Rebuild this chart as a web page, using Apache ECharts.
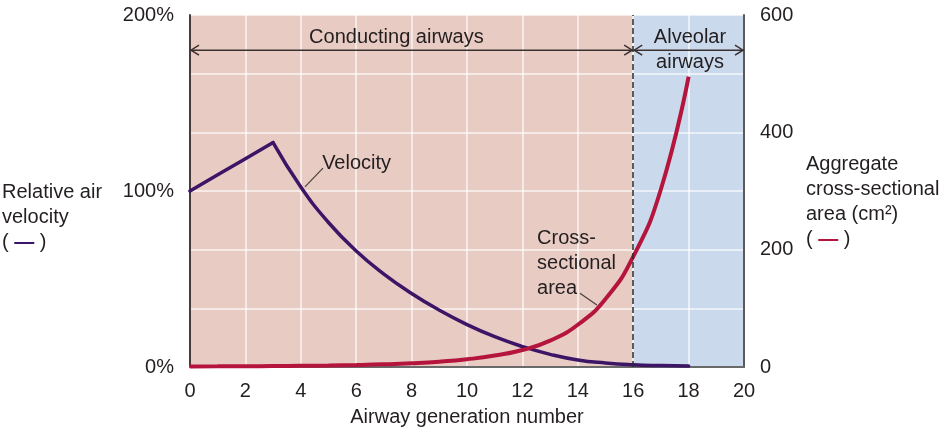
<!DOCTYPE html>
<html>
<head>
<meta charset="utf-8">
<script src="https://cdn.jsdelivr.net/npm/echarts@6/dist/echarts.min.js"></script>
<style>
html,body{margin:0;padding:0;background:#fff;}
#main{width:944px;height:432px;}
</style>
</head>
<body>
<div id="main"></div>
<script>
// ---- data ----
const generations = [0,1,2,3,4,5,6,7,8,9,10,11,12,13,14,15,16,17,18];
const velocityPct = [100,109.2,118.3,127.5,102.3,82.1,65.9,52.8,41.8,32.3,24.1,17.2,11.6,7.2,4.0,2.3,1.3,0.8,0.5];
const areaCm2 = [1.0,1.1,1.3,1.6,2.0,2.5,3.3,4.5,6.3,9.0,13.2,19.5,29,45,72,116,188,303,495];
const peakGeneration = 3;
const conductingRange = [0,16];
const alveolarRange = [16,20];
const leftTicks = [0,100,200];
const rightLabelTicks = [0,200,400,600];

const FONT = '"Liberation Sans", Arial, sans-serif';
const TXT = '#231f20';
const PURPLE = '#3c1566';
const RED = '#b5143d';

const riseData = [], decayData = [], areaData = [];
generations.forEach((g,i)=>{
  if (g <= peakGeneration) riseData.push([g, velocityPct[i]]);
  if (g >= peakGeneration) decayData.push([g, velocityPct[i]]);
  areaData.push([g, areaCm2[i]]);
});

const chart = echarts.init(document.getElementById('main'));
const option = {
  animation:false,
  backgroundColor:'#fff',
  grid:{left:190,right:200,top:15,bottom:59,containLabel:false},
  xAxis:{
    type:'value',min:0,max:20,interval:2,z:2,
    name:'Airway generation number',nameLocation:'middle',nameGap:40,
    nameTextStyle:{fontSize:20,fontFamily:FONT,color:TXT},
    axisLine:{show:true,lineStyle:{color:'#6a6a6a',width:2}},
    axisTick:{show:false},
    axisLabel:{fontSize:20,fontFamily:FONT,color:TXT,margin:14},
    splitLine:{show:true,lineStyle:{color:'rgba(255,255,255,0.6)',width:2}}
  },
  yAxis:[
    {type:'value',min:0,max:200,interval:100,position:'left',z:2,
     axisLine:{show:true,lineStyle:{color:'#4a3a3a',width:2}},
     axisTick:{show:false},
     axisLabel:{fontSize:20,fontFamily:FONT,color:TXT,margin:16,padding:[4,0,0,0],
       formatter:v=>leftTicks.includes(v)?v+'%':''},
     splitLine:{show:false}},
    {type:'value',min:0,max:600,interval:100,position:'right',z:2,
     axisLine:{show:true,lineStyle:{color:'#5a5a5a',width:2}},
     axisTick:{show:false},
     axisLabel:{fontSize:20,fontFamily:FONT,color:TXT,margin:16,padding:[4,0,0,0],
       formatter:v=>rightLabelTicks.includes(v)?String(v):''},
     splitLine:{show:true,lineStyle:{color:'rgba(255,255,255,0.6)',width:2}}}
  ],
  series:[
    {type:'line',yAxisIndex:1,data:[],z:1,silent:true,
     markArea:{silent:true,z:1,data:[
       [{xAxis:conductingRange[0],itemStyle:{color:'#e8cbc3'}},{xAxis:conductingRange[1]}],
       [{xAxis:alveolarRange[0],itemStyle:{color:'#cbd9ec'}},{xAxis:alveolarRange[1]}]
     ]}},
    {type:'line',yAxisIndex:1,data:[],z:6,silent:true,
     markLine:{silent:true,symbol:['none','none'],label:{show:false},
       lineStyle:{color:'#2a2a2a',type:[6,3],width:1.5},
       data:[{xAxis:conductingRange[1]}]}},
    {name:'velocityRise',type:'line',yAxisIndex:0,data:riseData,z:4,showSymbol:false,smooth:false,
     lineStyle:{color:PURPLE,width:3.5,cap:'round',join:'miter'}},
    {name:'velocityDecay',type:'line',yAxisIndex:0,data:decayData,z:4,showSymbol:false,smooth:0.5,
     lineStyle:{color:PURPLE,width:3.5,cap:'round'}},
    {name:'area',type:'line',yAxisIndex:1,data:areaData,z:4,showSymbol:false,smooth:0.5,
     lineStyle:{color:RED,width:4}}
  ]
};
chart.setOption(option);

function px(x,a){ return chart.convertToPixel({xAxisIndex:0,yAxisIndex:1},[x,a]); }
function arrow(x1,x2,a){
  const p1=px(x1,a), p2=px(x2,a), y=p1[1];
  const st={stroke:'#3a3030',lineWidth:1.5,fill:null};
  return [
    {type:'line',shape:{x1:p1[0],y1:y,x2:p2[0],y2:y},style:st,z:10},
    {type:'polyline',shape:{points:[[p1[0]+9,y-5],[p1[0]+1,y],[p1[0]+9,y+5]]},style:st,z:10},
    {type:'polyline',shape:{points:[[p2[0]-9,y-5],[p2[0]-1,y],[p2[0]-9,y+5]]},style:st,z:10}
  ];
}
function label(x,a,text,align){
  const p=px(x,a);
  return {type:'text',x:p[0],y:p[1],z:10,style:{text:text,fontSize:20,fontFamily:FONT,fill:TXT,
    align:align||'center',verticalAlign:'middle',lineHeight:25}};
}
function leader(x1,a1,x2,a2){
  const p=px(x1,a1), q=px(x2,a2);
  return {type:'line',z:10,shape:{x1:p[0],y1:p[1],x2:q[0],y2:q[1]},style:{stroke:'#4a4040',lineWidth:1.2}};
}
const g=[];
g.push(label(7.45,562,'Conducting airways'));
g.push(...arrow(0,16,540));
g.push(...arrow(16,20,540));
g.push(label(18.05,561,'Alveolar'));
g.push(label(18.05,519,'airways'));
g.push(label(4.77,347,'Velocity','left'));
g.push(leader(4.15,307,4.8,339));
g.push(label(12.53,177,'Cross-\nsectional\narea','left'));
g.push(leader(14.08,125.7,14.69,105.6));
g.push({type:'text',x:2,y:217,z:10,style:{text:'Relative air\nvelocity\n( {p|—} )',fontSize:20,fontFamily:FONT,fill:TXT,
  align:'left',verticalAlign:'middle',lineHeight:25,
  rich:{p:{fill:PURPLE,fontSize:20,fontWeight:'bold',fontFamily:FONT,lineHeight:25}}}});
g.push({type:'text',x:806,y:202,z:10,style:{text:'Aggregate\ncross-sectional\narea (cm²)\n( {p|—} )',fontSize:20,fontFamily:FONT,fill:TXT,
  align:'left',verticalAlign:'middle',lineHeight:25,
  rich:{p:{fill:RED,fontSize:20,fontWeight:'bold',fontFamily:FONT,lineHeight:25}}}});
chart.setOption({graphic:g});
</script>
</body>
</html>
